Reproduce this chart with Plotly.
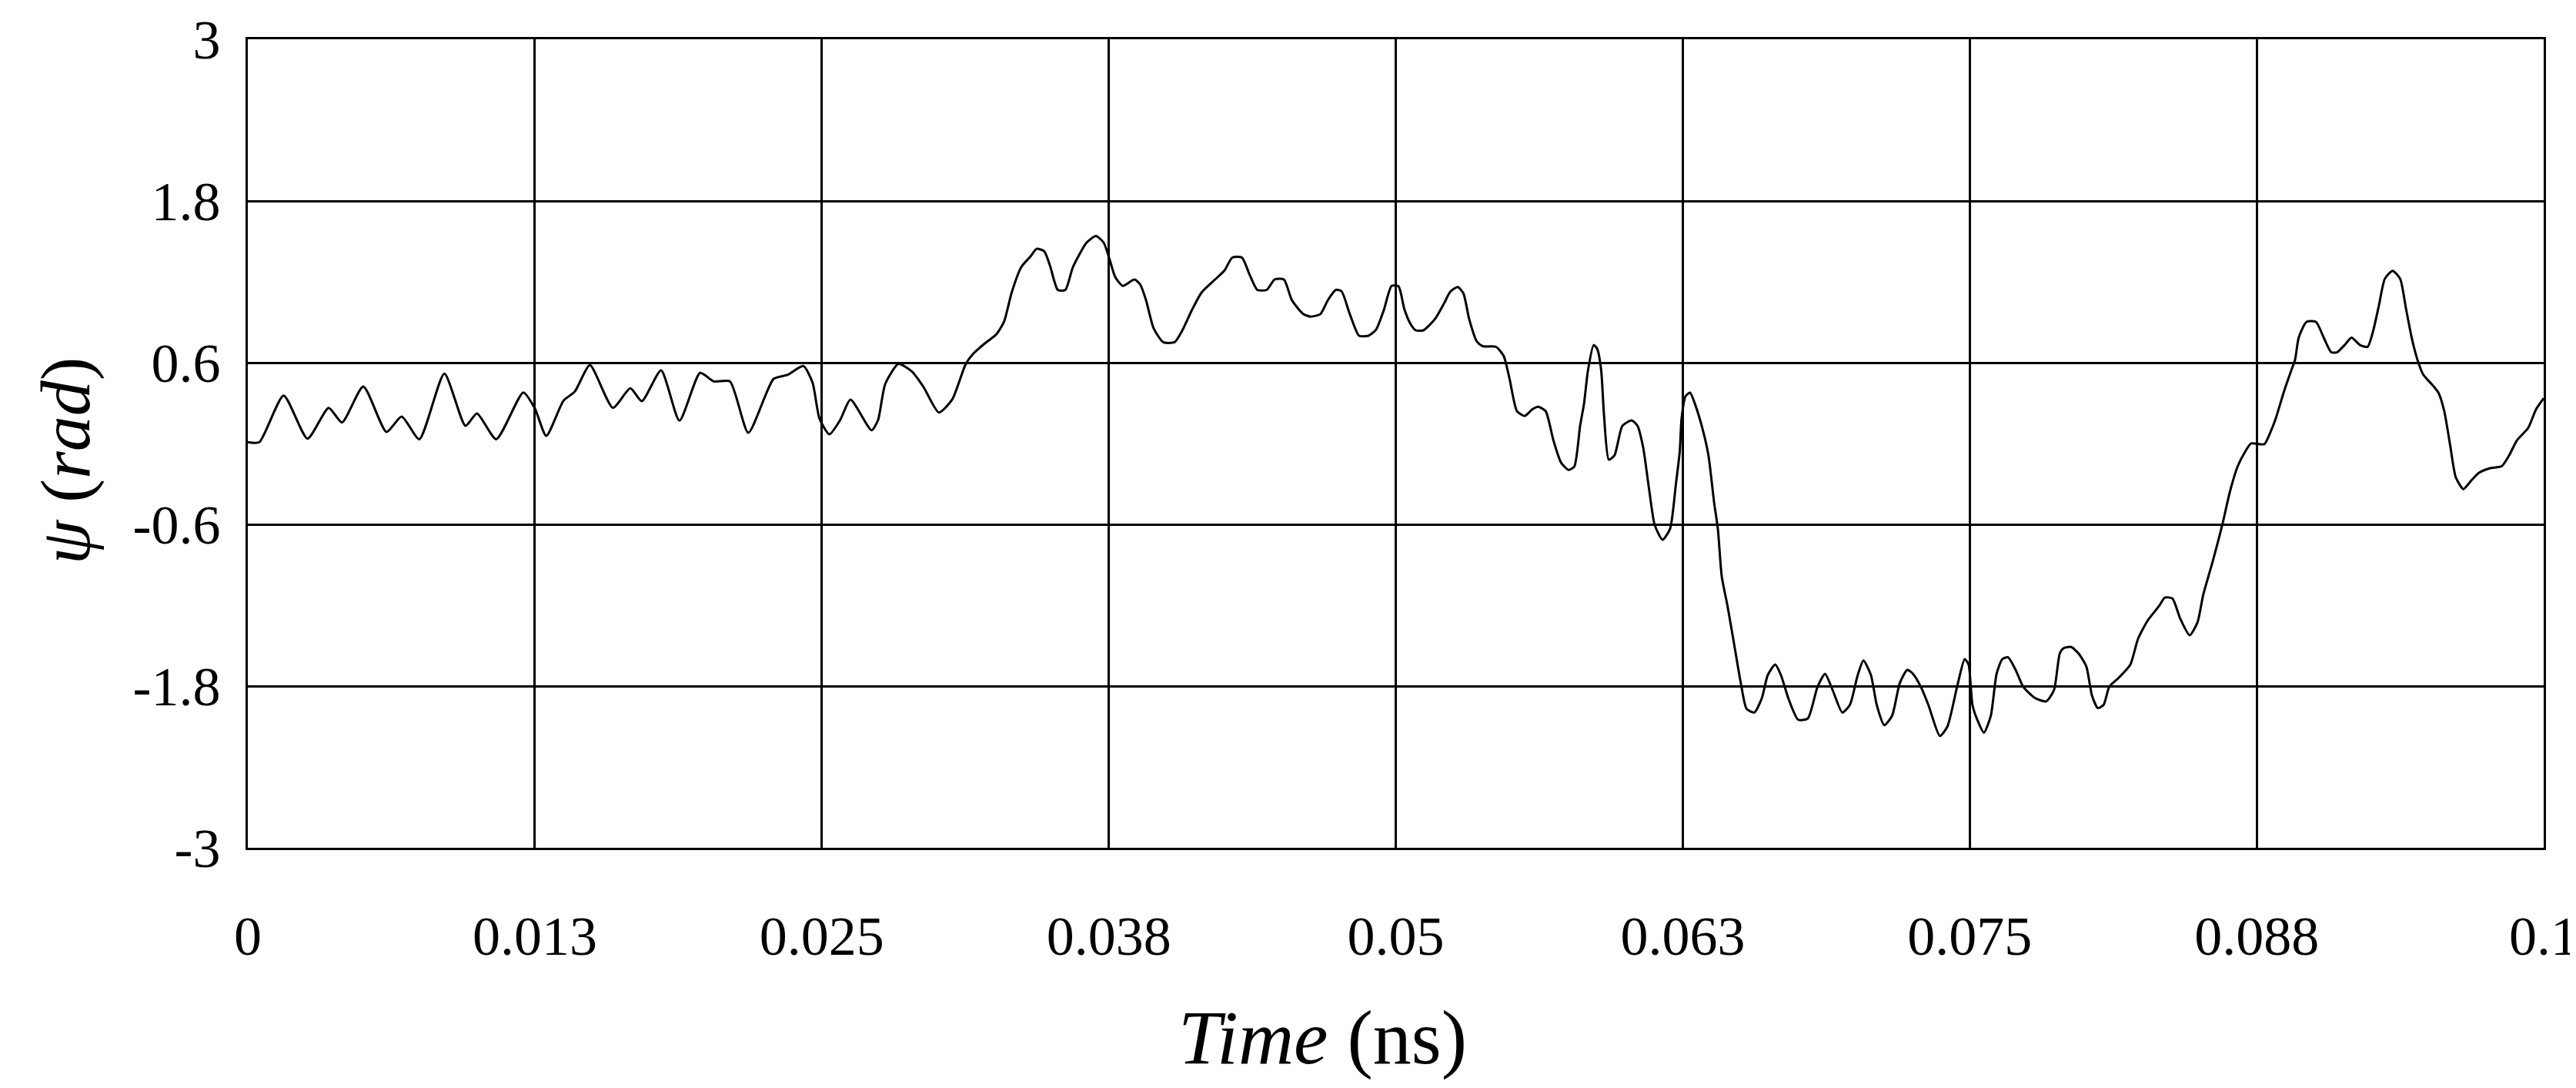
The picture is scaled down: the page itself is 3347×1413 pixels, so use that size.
import plotly.graph_objects as go

## Data (time in ns, phase in rad)
time_ns = [
    0.0, 0.0005, 0.00156, 0.0026, 0.00352, 0.0041, 0.00503, 0.00604, 0.0067, 0.00747,
    0.00856, 0.00948, 0.00998, 0.01082, 0.012, 0.0125, 0.0130, 0.01375, 0.01424, 0.0149,
    0.0159, 0.01666, 0.01716, 0.018, 0.0188, 0.0197, 0.0203, 0.021, 0.0218, 0.0229,
    0.0235, 0.0242, 0.0246, 0.0249, 0.02533, 0.0258, 0.02625, 0.02717, 0.02745, 0.02776,
    0.02834, 0.02893, 0.02943, 0.0301, 0.03068, 0.03127, 0.0316, 0.0321, 0.0326, 0.03294,
    0.03327, 0.03369, 0.0341, 0.03436, 0.03469, 0.03494, 0.03528, 0.03561, 0.03594, 0.03653,
    0.03694, 0.03728, 0.03753, 0.03778, 0.03811, 0.03862, 0.03887, 0.03912, 0.03945, 0.03987,
    0.04037, 0.0407, 0.04112, 0.04154, 0.04213, 0.04254, 0.04288, 0.0433, 0.04363, 0.04397,
    0.04438, 0.04472, 0.04513, 0.04547, 0.04597, 0.0463, 0.04672, 0.04705, 0.04739, 0.04764,
    0.04798, 0.0484, 0.04881, 0.04915, 0.04948, 0.04982, 0.05012, 0.05037, 0.05062, 0.05087,
    0.0512, 0.0517, 0.05212, 0.05237, 0.0527, 0.05295, 0.0532, 0.05353, 0.05378, 0.05437,
    0.0547, 0.05495, 0.05528, 0.05562, 0.05595, 0.0562, 0.05653, 0.05687, 0.0572, 0.05753,
    0.05778, 0.05803, 0.0582, 0.05837, 0.05862, 0.05878, 0.05895, 0.05907, 0.05928, 0.05953,
    0.05987, 0.06028, 0.06053, 0.06078, 0.06103, 0.06128, 0.06162, 0.06195, 0.0622, 0.06237,
    0.06245, 0.06262, 0.06282, 0.06303, 0.06337, 0.06362, 0.06387, 0.06403, 0.0642, 0.06445,
    0.0647, 0.06503, 0.06528, 0.06562, 0.06595, 0.0662, 0.06653, 0.06678, 0.06712, 0.06753,
    0.06795, 0.06837, 0.0687, 0.06903, 0.06945, 0.06978, 0.07012, 0.07037, 0.0707, 0.07095,
    0.07128, 0.07162, 0.07195, 0.07228, 0.07253, 0.07287, 0.0732, 0.0737, 0.07403, 0.07445,
    0.07478, 0.07495, 0.07512, 0.07533, 0.07562, 0.07592, 0.07617, 0.07642, 0.07667, 0.077,
    0.07733, 0.07783, 0.07833, 0.07867, 0.07892, 0.07908, 0.07942, 0.07975, 0.08008, 0.08033,
    0.08058, 0.08083, 0.08108, 0.0815, 0.082, 0.08233, 0.08275, 0.08325, 0.0835, 0.08383,
    0.08417, 0.08458, 0.08492, 0.08517, 0.08558, 0.086, 0.08633, 0.08667, 0.087, 0.08725,
    0.08783, 0.08808, 0.08833, 0.08867, 0.089, 0.08917, 0.08933, 0.08967, 0.09008, 0.09042,
    0.09075, 0.091, 0.09133, 0.09163, 0.092, 0.09233, 0.09258, 0.09283, 0.09308, 0.09342,
    0.09375, 0.094, 0.09425, 0.0945, 0.09475, 0.09517, 0.09542, 0.09567, 0.09592, 0.09617,
    0.0965, 0.09683, 0.09717, 0.09767, 0.09817, 0.0985, 0.09883, 0.09933, 0.09967, 0.1,
]
psi_rad = [
    0.01, 0.01, 0.356, 0.036, 0.265, 0.156, 0.423, 0.086, 0.2, 0.032,
    0.518, 0.131, 0.223, 0.032, 0.379, 0.261, 0.057, 0.318, 0.385, 0.581,
    0.265, 0.41, 0.314, 0.543, 0.17, 0.524, 0.461, 0.461, 0.08, 0.48,
    0.509, 0.575, 0.45, 0.185, 0.069, 0.174, 0.326, 0.098, 0.174, 0.44,
    0.591, 0.534, 0.42, 0.23, 0.326, 0.59, 0.667, 0.743, 0.81, 0.905,
    1.12, 1.31, 1.39, 1.445, 1.426, 1.32, 1.14, 1.14, 1.31, 1.49,
    1.54, 1.49, 1.37, 1.236, 1.17, 1.217, 1.18, 1.066, 0.857, 0.752,
    0.752, 0.838, 0.99, 1.12, 1.217, 1.284, 1.38, 1.38, 1.255, 1.14,
    1.14, 1.217, 1.217, 1.066, 0.961, 0.942, 0.961, 1.066, 1.14, 1.13,
    0.97, 0.8, 0.8, 0.847, 0.99, 1.17, 1.167, 1.0, 0.895, 0.84,
    0.84, 0.922, 1.045, 1.126, 1.162, 1.113, 0.922, 0.758, 0.723, 0.717,
    0.65, 0.486, 0.24, 0.205, 0.254, 0.273, 0.24, 0.022, -0.142, -0.196,
    -0.17, 0.131, 0.295, 0.54, 0.731, 0.70, 0.54, 0.213, -0.12, -0.087,
    0.131, 0.172, 0.131, -0.033, -0.333, -0.605, -0.714, -0.632, -0.305, -0.06,
    0.186, 0.35, 0.377, 0.295, 0.104, -0.087, -0.442, -0.633, -0.987, -1.205,
    -1.45, -1.778, -1.969, -1.996, -1.887, -1.72, -1.64, -1.72, -1.9, -2.05,
    -2.04, -1.806, -1.71, -1.83, -1.996, -1.94, -1.72, -1.61, -1.72, -1.94,
    -2.09, -2.02, -1.78, -1.68, -1.71, -1.805, -1.94, -2.17, -2.1, -1.805,
    -1.6, -1.64, -1.94, -2.05, -2.146, -2.02, -1.71, -1.6, -1.587, -1.68,
    -1.805, -1.887, -1.914, -1.83, -1.56, -1.52, -1.51, -1.56, -1.655, -1.873,
    -1.963, -1.94, -1.805, -1.737, -1.64, -1.45, -1.314, -1.205, -1.143, -1.15,
    -1.3, -1.423, -1.328, -1.123, -0.878, -0.605, -0.36, -0.17, -0.06, 0.0,
    -0.005, 0.077, 0.186, 0.376, 0.54, 0.62, 0.786, 0.903, 0.903, 0.786,
    0.677, 0.677, 0.731, 0.786, 0.731, 0.717, 0.84, 1.03, 1.222, 1.282,
    1.222, 1.004, 0.786, 0.622, 0.513, 0.431, 0.376, 0.24, -0.005, -0.25,
    -0.338, -0.278, -0.218, -0.183, -0.169, -0.087, 0.022, 0.117, 0.254, 0.336,
]

x_tickvals = [0, 0.0125, 0.025, 0.0375, 0.05, 0.0625, 0.075, 0.0875, 0.1]
x_ticktext = ["0", "0.013", "0.025", "0.038", "0.05", "0.063", "0.075", "0.088", "0.1"]
y_tickvals = [-3, -1.8, -0.6, 0.6, 1.8, 3]
y_ticktext = ["-3", "-1.8", "-0.6", "0.6", "1.8", "3"]

FONT = "Liberation Serif"

fig = go.Figure()
fig.add_trace(go.Scatter(
    x=time_ns, y=psi_rad, mode="lines",
    line=dict(color="black", width=3, shape="spline", smoothing=0.6),
    showlegend=False,
))

axis_style = dict(
    showline=True, mirror=True, linecolor="black", linewidth=3,
    showgrid=True, gridcolor="black", gridwidth=3,
    zeroline=False, ticks="", automargin=False,
    tickfont=dict(family=FONT, size=72, color="black"),
)
fig.update_xaxes(range=[0, 0.1], tickmode="array", tickvals=x_tickvals,
                 ticktext=x_ticktext, ticklabelstandoff=50, **axis_style)
fig.update_yaxes(range=[-3, 3], tickmode="array", tickvals=y_tickvals,
                 ticktext=y_ticktext, ticklabelstandoff=18, **axis_style)

# axis titles as annotations so they sit where the original puts them
fig.add_annotation(text="<i>Time</i> (ns)", xref="paper", yref="paper",
                   x=0.468, y=-0.235, xanchor="center", yanchor="middle",
                   showarrow=False, font=dict(family=FONT, size=100, color="black"))
fig.add_annotation(text="<i>ψ</i> (<i>rad</i>)", xref="paper", yref="paper",
                   x=-0.0795, y=0.479, xanchor="center", yanchor="middle",
                   textangle=-90, showarrow=False,
                   font=dict(family=FONT, size=92, color="black"))

fig.update_layout(
    width=3347, height=1413,
    plot_bgcolor="white", paper_bgcolor="white",
    margin=dict(l=314, r=50, t=43, b=320),
)

fig.write_html("out.html")
